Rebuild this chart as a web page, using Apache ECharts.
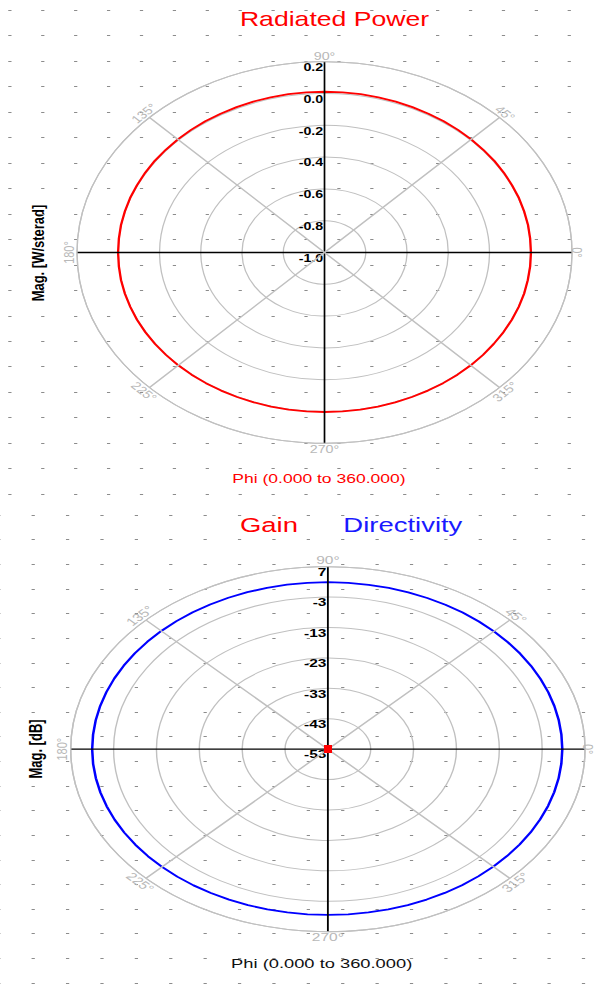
<!DOCTYPE html>
<html><head><meta charset="utf-8">
<script src="https://cdn.jsdelivr.net/npm/echarts@6/dist/echarts.min.js"></script>
<style>
html,body{margin:0;padding:0;background:#fff;width:597px;height:984px;overflow:hidden;}
.panel{position:absolute;left:0;transform-origin:0 0;}
#p1{top:0;width:460.3px;height:497px;transform:scaleX(1.297);}
#p2{top:497px;width:423.7px;height:487px;transform:scaleX(1.409);}
</style></head><body>
<div id="p1" class="panel"></div>
<div id="p2" class="panel"></div>
<script>
// ---- data ----
const phi = [0,5,10,15,20,25,30,35,40,45,50,55,60,65,70,75,80,85,90,95,100,105,110,115,120,125,130,135,140,145,150,155,160,165,170,175,180,185,190,195,200,205,210,215,220,225,230,235,240,245,250,255,260,265,270,275,280,285,290,295,300,305,310,315,320,325,330,335,340,345,350,355,360];
const radiatedPower = [0.001,0.001,0.002,0.002,0.003,0.003,0.004,0.005,0.005,0.006,0.007,0.008,0.008,0.009,0.010,0.010,0.011,0.011,0.011,0.011,0.011,0.010,0.010,0.009,0.008,0.008,0.007,0.006,0.005,0.005,0.004,0.003,0.003,0.002,0.002,0.001,0.001,0.001,0.002,0.002,0.002,0.003,0.003,0.003,0.003,0.003,0.003,0.003,0.003,0.003,0.003,0.003,0.003,0.003,0.003,0.003,0.003,0.003,0.003,0.003,0.003,0.003,0.003,0.003,0.003,0.002,0.002,0.002,0.002,0.002,0.001,0.001,0.001];
const directivity = [1.70,1.70,1.71,1.72,1.73,1.74,1.75,1.77,1.78,1.80,1.81,1.83,1.84,1.85,1.87,1.88,1.89,1.90,1.90,1.91,1.91,1.92,1.93,1.94,1.95,1.96,1.96,1.97,1.97,1.98,1.98,1.99,1.99,2.00,2.00,2.00,2.00,1.99,1.97,1.95,1.92,1.89,1.85,1.81,1.77,1.73,1.69,1.65,1.61,1.58,1.55,1.53,1.51,1.50,1.50,1.50,1.51,1.52,1.53,1.54,1.55,1.57,1.58,1.60,1.61,1.62,1.64,1.65,1.66,1.67,1.68,1.69,1.70];
const gain = [-53,-53,-53,-53,-53,-53,-53,-53,-53,-53,-53,-53,-53,-53,-53,-53,-53,-53,-53,-53,-53,-53,-53,-53,-53,-53,-53,-53,-53,-53,-53,-53,-53,-53,-53,-53,-53,-53,-53,-53,-53,-53,-53,-53,-53,-53,-53,-53,-53,-53,-53,-53,-53,-53,-53,-53,-53,-53,-53,-53,-53,-53,-53,-53,-53,-53,-53,-53,-53,-53,-53,-53,-53];
const powerTicks = [-1.0,-0.8,-0.6,-0.4,-0.2,0.0,0.2];
const dbTicks = [-53,-43,-33,-23,-13,-3,7];
const angleTicks = [0,45,90,135,180,225,270,315];
const angleLabels = ['0°','45°','90°','135°','180°','225°','270°','315°'];

const FONT = '"Liberation Sans", Arial, sans-serif';

function dotsGrid(cfg){
  return {
    grid:{left:0, width:cfg.w, top:cfg.rowTop, height:cfg.rowStep*cfg.rows, show:false},
    xAxis:{type:'value', min:0, max:cfg.w, z:0, axisLine:{show:false}, axisTick:{show:false}, axisLabel:{show:false}, splitLine:{show:false}},
    yAxis:{type:'value', inverse:true, min:0, max:cfg.rowStep*cfg.rows, interval:cfg.rowStep, z:0,
      axisLine:{show:false}, axisTick:{show:false}, axisLabel:{show:false},
      splitLine:{show:true, lineStyle:{color:'#8c8c8c', width:1, type:[cfg.dash, cfg.colStep-cfg.dash], dashOffset: cfg.colStep-(cfg.colCenter-cfg.dash/2)}}}
  };
}

// angle labels placed tangentially just outside the outer ring
function angleLabelGraphics(cfg){
  return angleTicks.map(function(a, i){
    const rad = a * Math.PI / 180;
    const rr = cfg.r + (a === 0 ? cfg.m0 : cfg.m);
    const rotDeg = a <= 180 ? a - 90 : a - 270;
    return {type:'text', x: cfg.cx + rr*Math.cos(rad), y: cfg.cy - rr*Math.sin(rad), rotation: rotDeg*Math.PI/180, z:5,
      style:{text: angleLabels[i], fill:'#b8b8b8', font:'11px '+FONT, align:'center', verticalAlign:'middle'}};
  });
}

function polarParts(cfg){
  return {
    polar:{center:[cfg.cx, cfg.cy], radius:cfg.r},
    angleAxis:{type:'value', min:90, max:450, interval:45, startAngle:90, clockwise:false, z:3,
      axisLine:{show:true, lineStyle:{color:'#c0c0c0', width:1}},
      axisTick:{show:false},
      axisLabel:{show:false},
      splitLine:{show:true, lineStyle:{color:['#000000','#c0c0c0'], width:1.3}}
    },
    radiusAxis:{type:'value', min:cfg.ticks[0], max:cfg.ticks[cfg.ticks.length-1], z:1,
      axisLine:{show:false},
      axisTick:{show:false, customValues:cfg.ticks},
      axisLabel:{show:true, customValues:cfg.ticks, margin:1, verticalAlign:'top', color:'#000', fontSize:11, fontWeight:'bold', fontFamily:FONT,
        formatter:cfg.fmt},
      splitLine:{show:true, lineStyle:{color:'#c0c0c0', width:1}}
    }
  };
}

// ---- top panel ----
const P1 = {cx:250.2, cy:252.5, r:190.8, m:6, m0:4, ticks:powerTicks, fmt:v=>v.toFixed(1)};
const c1 = echarts.init(document.getElementById('p1'), null, {renderer:'svg'});
const g1 = dotsGrid({w:460.3, rowTop:10, rowStep:25.48, rows:19, colStep:25.37, colCenter:7.17, dash:2.5});
c1.setOption(Object.assign({
  animation:false,
  title:[
    {text:'Radiated Power', left:257.9, top:8.5, textAlign:'center', padding:0,
      textStyle:{color:'#ff0000', fontSize:20.5, fontWeight:'normal', fontFamily:FONT}},
    {text:'Phi (0.000 to 360.000)', left:245.9, top:471, textAlign:'center', padding:0,
      textStyle:{color:'#ff0000', fontSize:13.5, fontWeight:'normal', fontFamily:FONT}}
  ],
  graphic:[{type:'text', x:29.3, y:253, rotation:Math.PI/2,
    style:{text:'Mag. [W/sterad]', fill:'#000', font:'bold 13px '+FONT, align:'center', verticalAlign:'middle'}}]
    .concat(angleLabelGraphics(P1)),
  series:[{name:'Radiated Power', type:'line', coordinateSystem:'polar', z:2, showSymbol:false, smooth:false,
    lineStyle:{color:'#ff0000', width:1.8},
    data:phi.map((a,i)=>[radiatedPower[i], a])}]
}, g1, polarParts(P1)));

// ---- bottom panel ----
const P2 = {cx:232.7, cy:252.2, r:182.5, m:6, m0:2.5, ticks:dbTicks, fmt:v=>String(Math.round(v))};
const c2 = echarts.init(document.getElementById('p2'), null, {renderer:'svg'});
const g2 = dotsGrid({w:423.7, rowTop:18, rowStep:24.63, rows:19, colStep:24.41, colCenter:23.07, dash:2.3});
c2.setOption(Object.assign({
  animation:false,
  legend:{data:[{name:'Gain', textStyle:{color:'#ff0000'}},{name:'Directivity', textStyle:{color:'#1a1aff'}}],
    icon:'none', itemWidth:0, itemHeight:10, itemGap:27.2, left:165.3, top:18, padding:0, selectedMode:false,
    textStyle:{fontSize:19.5, fontFamily:FONT}},
  title:[
    {text:'Phi (0.000 to 360.000)', left:228.3, top:460, textAlign:'center', padding:0,
      textStyle:{color:'#111', fontSize:13, fontWeight:'normal', fontFamily:FONT}}
  ],
  graphic:[{type:'text', x:25.5, y:252, rotation:Math.PI/2,
    style:{text:'Mag. [dB]', fill:'#000', font:'bold 13px '+FONT, align:'center', verticalAlign:'middle'}}]
    .concat(angleLabelGraphics(P2)),
  series:[
    {name:'Gain', type:'line', coordinateSystem:'polar', z:4, showSymbol:true, symbol:'rect', symbolSize:[5,7],
      itemStyle:{color:'#ff0000'}, lineStyle:{color:'#ff0000', width:1.8},
      data:phi.map((a,i)=>[gain[i], a])},
    {name:'Directivity', type:'line', coordinateSystem:'polar', z:2, showSymbol:false, smooth:false,
      itemStyle:{color:'#0000ff'}, lineStyle:{color:'#0000ff', width:1.8},
      data:phi.map((a,i)=>[directivity[i], a])}
  ]
}, g2, polarParts(P2)));
</script>
</body></html>
